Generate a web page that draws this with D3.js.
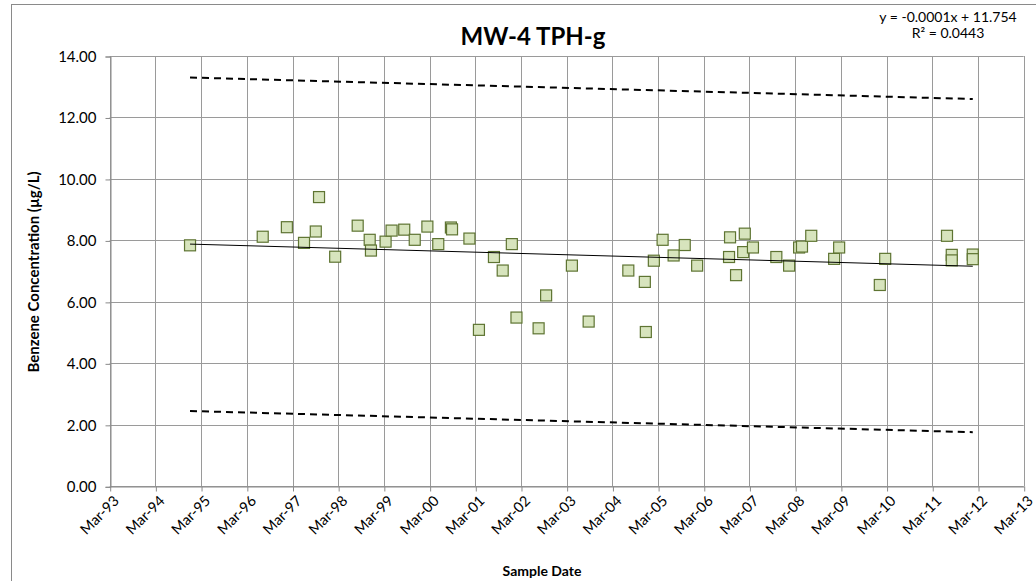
<!DOCTYPE html>
<html>
<head>
<meta charset="utf-8">
<script src="https://cdn.jsdelivr.net/npm/d3@7"></script>
<style>
  html, body { margin: 0; padding: 0; background: #fff; }
  svg { display: block; font-family: Carlito, Calibri, Lato, sans-serif; }
</style>
</head>
<body>
<svg id="chart" width="1036" height="581"></svg>
<script>
// ---- data ----
const title = "MW-4 TPH-g";
const yLabel = "Benzene Concentration (µg/L)";
const xLabel = "Sample Date";
const equationLines = ["y = -0.0001x + 11.754", "R² = 0.0443"];

const sampleDates = [
  "1994-12-03","1996-07-06","1997-01-15","1997-06-01","1997-09-03","1997-09-29",
  "1998-02-05","1998-08-04","1998-11-08","1998-11-18","1999-03-15","1999-05-02",
  "1999-08-11","1999-11-03","2000-02-12","2000-05-09","2000-08-18","2000-08-27",
  "2001-01-13","2001-03-30","2001-07-28","2001-10-06","2001-12-18","2002-01-24",
  "2002-07-20","2002-09-18","2003-04-12","2003-08-24","2004-07-06","2004-11-15",
  "2004-11-23","2005-01-26","2005-04-06","2005-07-03","2005-09-30","2006-01-07",
  "2006-09-19","2006-09-27","2006-11-14","2007-01-10","2007-01-23","2007-03-29",
  "2007-10-02","2008-01-12","2008-04-01","2008-04-24","2008-07-07","2009-01-06",
  "2009-02-15","2010-01-06","2010-02-18","2011-06-27","2011-08-04","2011-08-04",
  "2012-01-19","2012-01-19"
];
const concentrations = [
  7.84, 8.12, 8.43, 7.92, 8.29, 9.41,
  7.47, 8.48, 8.02, 7.67, 7.96, 8.32,
  8.35, 8.02, 8.45, 7.88, 8.42, 8.36,
  8.06, 5.09, 7.46, 7.02, 7.88, 5.49,
  5.14, 6.21, 7.18, 5.36, 7.02, 6.65,
  5.02, 7.34, 8.02, 7.51, 7.85, 7.18,
  7.46, 8.10, 6.87, 7.62, 8.22, 7.77,
  7.46, 7.18, 7.77, 7.80, 8.15, 7.40,
  7.77, 6.55, 7.40, 8.15, 7.53, 7.35,
  7.54, 7.39
];

// trend line and confidence bounds (end points)
const trendDates = ["1994-12-03", "2012-01-19"];
const trendValues = [7.88, 7.16];
const upperValues = [13.30, 12.60];
const lowerValues = [2.45, 1.76];

const xTickDates = d3.range(1993, 2014).map(y => y + "-03-01");
const yTicks = [0, 2, 4, 6, 8, 10, 12, 14];

// ---- layout ----
const parse = d3.utcParse("%Y-%m-%d");
const svg = d3.select("#chart");
const plot = { left: 109.7, right: 1023.7, top: 56, bottom: 486.3 };

const x = d3.scaleUtc()
  .domain([parse("1993-03-01"), parse("2013-03-01")])
  .range([plot.left, plot.right]);
const y = d3.scaleLinear().domain([0, 14]).range([plot.bottom, plot.top]);

// outer frame
svg.append("rect").attr("x", 11.5).attr("y", 4.5).attr("width", 1040).attr("height", 600)
  .attr("fill", "none").attr("stroke", "#8a8a8a").attr("stroke-width", 1);

const gridColor = "#9a9a9a";

// horizontal grid
svg.append("g").selectAll("line").data(yTicks).join("line")
  .attr("x1", plot.left).attr("x2", plot.right)
  .attr("y1", d => Math.round(y(d)) + 0.5).attr("y2", d => Math.round(y(d)) + 0.5)
  .attr("stroke", gridColor).attr("stroke-width", 1);

// vertical grid
svg.append("g").selectAll("line").data(xTickDates).join("line")
  .attr("x1", d => Math.round(x(parse(d))) + 0.5).attr("x2", d => Math.round(x(parse(d))) + 0.5)
  .attr("y1", plot.top).attr("y2", plot.bottom)
  .attr("stroke", gridColor).attr("stroke-width", 1);

// y axis
const yAxis = d3.axisLeft(y).tickValues(yTicks).tickFormat(d3.format(".2f")).tickSize(5).tickPadding(9);
const gy = svg.append("g").attr("transform", `translate(${Math.round(plot.left) + 0.5},0.5)`).call(yAxis);
gy.selectAll("path, line").attr("stroke", "#8a8a8a");
gy.selectAll("text").attr("font-size", 15).attr("fill", "#000").attr("font-family", "Lato, sans-serif");

// x axis
const xAxis = d3.axisBottom(x).tickValues(xTickDates.map(parse)).tickFormat(d3.utcFormat("%b-%y")).tickSize(5).tickSizeOuter(0);
const gx = svg.append("g").attr("transform", `translate(0.5,${Math.round(plot.bottom) + 0.5})`).call(xAxis);
gx.selectAll("path, line").attr("stroke", "#8a8a8a");
gx.selectAll("text")
  .attr("font-size", 14.5).attr("fill", "#000").attr("font-family", "Lato, sans-serif")
  .attr("text-anchor", "end")
  .attr("dy", "0.35em")
  .attr("transform", "translate(0,6) rotate(-45)");

// trend + bounds
const line = d3.line().x(d => x(d[0])).y(d => y(d[1]));
const td = trendDates.map(parse);
svg.append("path").datum(td.map((d, i) => [d, upperValues[i]])).attr("d", line)
  .attr("fill", "none").attr("stroke", "#000").attr("stroke-width", 2).attr("stroke-dasharray", "7,5");
svg.append("path").datum(td.map((d, i) => [d, lowerValues[i]])).attr("d", line)
  .attr("fill", "none").attr("stroke", "#000").attr("stroke-width", 2).attr("stroke-dasharray", "7,5");

// points
const pts = sampleDates.map((d, i) => [parse(d), concentrations[i]]);
const s = 11;
svg.append("g").selectAll("rect").data(pts).join("rect")
  .attr("x", d => x(d[0]) - s / 2).attr("y", d => y(d[1]) - s / 2)
  .attr("width", s).attr("height", s)
  .attr("fill", "#d7e4bd").attr("stroke", "#5e7432").attr("stroke-width", 1.2);

svg.append("path").datum(td.map((d, i) => [d, trendValues[i]])).attr("d", line)
  .attr("fill", "none").attr("stroke", "#000").attr("stroke-width", 1);

// title
svg.append("text").attr("x", 533).attr("y", 45).attr("text-anchor", "middle")
  .attr("font-family", "Lato, sans-serif").attr("font-weight", "bold").attr("font-size", 24)
  .text(title);

// equation
svg.append("g").selectAll("text").data(equationLines).join("text")
  .attr("x", 948).attr("y", (d, i) => 22 + i * 16).attr("text-anchor", "middle")
  .attr("font-family", "Lato, sans-serif").attr("font-size", 14)
  .text(d => d);

// axis titles
svg.append("text").attr("transform", "translate(39,272) rotate(-90)").attr("text-anchor", "middle")
  .attr("font-family", "Lato, sans-serif").attr("font-weight", "bold").attr("font-size", 15)
  .text(yLabel);
svg.append("text").attr("x", 542).attr("y", 576).attr("text-anchor", "middle")
  .attr("font-family", "Lato, sans-serif").attr("font-weight", "bold").attr("font-size", 14)
  .text(xLabel);
</script>
</body>
</html>
